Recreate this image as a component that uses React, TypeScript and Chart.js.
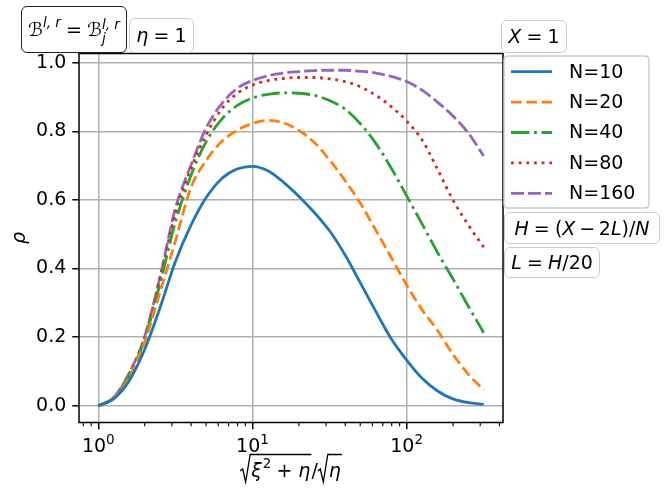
import { useEffect, useRef } from "react";
import { Chart, registerables } from "chart.js";

Chart.register(...registerables);

const FONT = '"DejaVu Sans", sans-serif';

// x = sqrt(xi^2 + eta)/sqrt(eta), sampled every 0.1 decade
const XS = [
  1, 1.259, 1.585, 1.995, 2.512, 3.162, 3.981, 5.012, 6.31, 7.943, 10, 12.59,
  15.85, 19.95, 25.12, 31.62, 39.81, 50.12, 63.1, 79.43, 100, 125.9, 158.5,
  199.5, 251.2, 316.2,
];

const N10 = [
  0, 0.02, 0.072, 0.163, 0.285, 0.42, 0.525, 0.607, 0.662, 0.69, 0.698, 0.685,
  0.652, 0.611, 0.564, 0.51, 0.44, 0.358, 0.275, 0.195, 0.133, 0.08, 0.043,
  0.02, 0.009, 0.004,
];
const N20 = [
  0, 0.022, 0.082, 0.185, 0.33, 0.48, 0.635, 0.715, 0.77, 0.803, 0.823, 0.832,
  0.825, 0.803, 0.768, 0.717, 0.657, 0.59, 0.512, 0.432, 0.352, 0.28, 0.22,
  0.15, 0.092, 0.046,
];
const N40 = [
  0, 0.023, 0.088, 0.193, 0.355, 0.535, 0.67, 0.77, 0.835, 0.875, 0.897, 0.908,
  0.912, 0.911, 0.905, 0.89, 0.865, 0.822, 0.765, 0.693, 0.612, 0.53, 0.447,
  0.37, 0.29, 0.213,
];
const N80 = [
  0, 0.024, 0.092, 0.197, 0.37, 0.56, 0.69, 0.79, 0.865, 0.91, 0.935, 0.948,
  0.954, 0.957, 0.957, 0.953, 0.945, 0.93, 0.905, 0.872, 0.83, 0.775, 0.69,
  0.6, 0.527, 0.462,
];
const N160 = [
  0, 0.024, 0.095, 0.2, 0.375, 0.575, 0.7, 0.81, 0.88, 0.925, 0.948, 0.962,
  0.97, 0.974, 0.977, 0.978, 0.978, 0.975, 0.97, 0.96, 0.945, 0.92, 0.885,
  0.845, 0.795, 0.728,
];

const LABELS = ["N=10", "N=20", "N=40", "N=80", "N=160"];
const VALUES = [N10, N20, N40, N80, N160];

const X_MAJOR = [1, 10, 100];
const X_MINOR = [
  0.8, 0.9, 2, 3, 4, 5, 6, 7, 8, 9, 20, 30, 40, 50, 60, 70, 80, 90, 200, 300,
  400,
];
const Y_TICKS = [0, 0.2, 0.4, 0.6, 0.8, 1.0];

const STYLES = [
  { color: "#1f77b4", dash: [] as number[] },
  { color: "#ff7f0e", dash: [10.7, 4.6] },
  { color: "#2ca02c", dash: [18.4, 4.6, 2.9, 4.6] },
  { color: "#d62728", dash: [2.9, 4.75] },
  { color: "#9467bd", dash: [13, 4] },
];

const LW = 2.8;

function roundRect(ctx: CanvasRenderingContext2D, x: number, y: number, w: number, h: number, r: number) {
  ctx.beginPath();
  ctx.moveTo(x + r, y);
  ctx.lineTo(x + w - r, y);
  ctx.quadraticCurveTo(x + w, y, x + w, y + r);
  ctx.lineTo(x + w, y + h - r);
  ctx.quadraticCurveTo(x + w, y + h, x + w - r, y + h);
  ctx.lineTo(x + r, y + h);
  ctx.quadraticCurveTo(x, y + h, x, y + h - r);
  ctx.lineTo(x, y + r);
  ctx.quadraticCurveTo(x, y, x + r, y);
  ctx.closePath();
}

// radical sign with bar over width w, starting at x, returns x after the sign
function radical(ctx: CanvasRenderingContext2D, x: number, top: number, bottom: number, w: number) {
  ctx.beginPath();
  ctx.moveTo(x, bottom - 11);
  ctx.lineTo(x + 2.5, bottom - 13);
  ctx.lineTo(x + 5.5, bottom);
  ctx.lineTo(x + 10, top);
  ctx.lineTo(x + 10 + w, top);
  ctx.stroke();
  return x + 10;
}

const decorPlugin = {
  id: "decor",
  afterDraw(chart: Chart) {
    const { ctx, chartArea: a } = chart;
    const xs = chart.scales.x;
    ctx.save();

    // minor ticks
    ctx.strokeStyle = "#000";
    ctx.lineWidth = 1.15;
    X_MINOR.forEach((v) => {
      const px = xs.getPixelForValue(v);
      if (px < a.left || px > a.right) return;
      ctx.beginPath();
      ctx.moveTo(px, a.bottom);
      ctx.lineTo(px, a.bottom + 3.8);
      ctx.stroke();
    });

    // frame
    ctx.lineWidth = 1.5;
    ctx.strokeRect(a.left, a.top, a.right - a.left, a.bottom - a.top);

    // x tick labels 10^k
    ctx.fillStyle = "#000";
    ctx.textBaseline = "alphabetic";
    ctx.textAlign = "left";
    X_MAJOR.forEach((v) => {
      const px = xs.getPixelForValue(v);
      const exp = String(Math.round(Math.log10(v)));
      ctx.font = `19px ${FONT}`;
      const wb = ctx.measureText("10").width;
      ctx.font = `13.5px ${FONT}`;
      const we = ctx.measureText(exp).width;
      const x0 = px - (wb + we) / 2;
      ctx.font = `19px ${FONT}`;
      ctx.fillText("10", x0, 451.5);
      ctx.font = `13.5px ${FONT}`;
      ctx.fillText(exp, x0 + wb, 443.5);
    });

    // y label
    ctx.save();
    ctx.translate(20, (a.top + a.bottom) / 2);
    ctx.rotate(-Math.PI / 2);
    ctx.font = `italic 19px ${FONT}`;
    ctx.textAlign = "center";
    ctx.textBaseline = "middle";
    ctx.fillText("ρ", 0, 0);
    ctx.restore();

    // x label: sqrt(xi^2 + eta)/sqrt(eta)
    const base = 476.5;
    const top = 454.5;
    const bot = 482;
    ctx.lineWidth = 1.3;
    ctx.font = `italic 19px ${FONT}`;
    const wXi = ctx.measureText("ξ").width;
    const wEta = ctx.measureText("η").width;
    ctx.font = `13.5px ${FONT}`;
    const w2 = ctx.measureText("2").width;
    ctx.font = `19px ${FONT}`;
    const wPlus = ctx.measureText(" + ").width;
    const wSlash = ctx.measureText("/").width;
    const inner1 = wXi + w2 + wPlus + wEta + 2;
    const inner2 = wEta + 2;
    const total = 10 + inner1 + wSlash + 10 + inner2;
    let cx = (a.left + a.right) / 2 - total / 2;
    cx = radical(ctx, cx, top, bot, inner1);
    ctx.font = `italic 19px ${FONT}`;
    ctx.fillText("ξ", cx + 1, base);
    ctx.font = `13.5px ${FONT}`;
    ctx.fillText("2", cx + 1 + wXi + 1, base - 9);
    ctx.font = `19px ${FONT}`;
    ctx.fillText(" + ", cx + 1 + wXi + w2, base);
    ctx.font = `italic 19px ${FONT}`;
    ctx.fillText("η", cx + 1 + wXi + w2 + wPlus, base);
    cx += inner1;
    ctx.font = `19px ${FONT}`;
    ctx.fillText("/", cx, base);
    cx += wSlash;
    cx = radical(ctx, cx, top, bot, inner2);
    ctx.font = `italic 19px ${FONT}`;
    ctx.fillText("η", cx + 1, base);

    // legend
    const lx = 504;
    const ly = 56;
    roundRect(ctx, lx, ly, 145, 152, 4);
    ctx.fillStyle = "rgba(255,255,255,0.8)";
    ctx.fill();
    ctx.strokeStyle = "#cccccc";
    ctx.lineWidth = 1.4;
    ctx.stroke();
    chart.data.datasets.forEach((ds, i) => {
      const y = 71.7 + i * 30.4;
      const st = STYLES[i];
      ctx.strokeStyle = st.color;
      ctx.lineWidth = LW;
      ctx.setLineDash(st.dash);
      ctx.beginPath();
      ctx.moveTo(511, y);
      ctx.lineTo(552, y);
      ctx.stroke();
      ctx.setLineDash([]);
      ctx.fillStyle = "#000";
      ctx.font = `19px ${FONT}`;
      ctx.textBaseline = "middle";
      ctx.fillText(ds.label as string, 569, y + 1);
    });

    ctx.restore();
  },
};

const Op = ({ children, gap = 0.27 }: { children: string; gap?: number }) => (
  <span style={{ margin: `0 ${gap}em` }}>{children}</span>
);

function box(left: number, top: number, w: number, h: number, border: string) {
  return {
    position: "absolute" as const,
    left,
    top,
    width: w,
    height: h,
    boxSizing: "border-box" as const,
    border: `1.4px solid ${border}`,
    borderRadius: 6,
    background: "rgba(255,255,255,0.9)",
    display: "flex",
    alignItems: "center",
    justifyContent: "center",
    fontSize: 19,
    whiteSpace: "nowrap" as const,
    lineHeight: 1,
    fontFamily: FONT,
  };
}

export default function App() {
  const canvasRef = useRef<HTMLCanvasElement>(null);

  useEffect(() => {
    if (!canvasRef.current) return;
    const chart = new Chart(canvasRef.current, {
      type: "line",
      data: {
        datasets: VALUES.map((vals, i) => ({
          label: LABELS[i],
          data: XS.map((x, j) => ({ x, y: vals[j] })),
          borderColor: STYLES[i].color,
          borderDash: STYLES[i].dash,
          borderWidth: LW,
          pointRadius: 0,
          fill: false,
          cubicInterpolationMode: "monotone" as const,
        })),
      },
      options: {
        animation: false,
        responsive: true,
        maintainAspectRatio: false,
        layout: { padding: { top: 53.5, right: 167, bottom: 0, left: 0 } },
        plugins: { legend: { display: false }, tooltip: { enabled: false } },
        scales: {
          x: {
            type: "logarithmic",
            bounds: "data",
            min: 0.7499,
            max: 421.7,
            afterBuildTicks: (s) => {
              s.ticks = X_MAJOR.map((value) => ({ value }));
            },
            afterFit: (s) => {
              s.height = 75.5;
            },
            ticks: { display: false, autoSkip: false },
            grid: {
              color: "#b0b0b0",
              lineWidth: 1.5,
              tickColor: "#000",
              tickLength: 6.7,
              tickWidth: 1.5,
            },
            border: { display: false },
          },
          y: {
            type: "linear",
            bounds: "data",
            min: -0.0489,
            max: 1.0269,
            afterBuildTicks: (s) => {
              s.ticks = Y_TICKS.map((value) => ({ value }));
            },
            afterFit: (s) => {
              s.width = 79;
            },
            ticks: {
              autoSkip: false,
              color: "#000",
              padding: 6,
              font: { family: FONT, size: 19 },
              callback: (v) => Number(v).toFixed(1),
            },
            grid: {
              color: "#b0b0b0",
              lineWidth: 1.5,
              tickColor: "#000",
              tickLength: 6.7,
              tickWidth: 1.5,
            },
            border: { display: false },
          },
        },
      },
      plugins: [decorPlugin],
    });
    return () => chart.destroy();
  }, []);

  return (
    <div
      style={{
        position: "fixed",
        left: 0,
        top: 0,
        width: 670,
        height: 498,
        background: "#fff",
        fontFamily: FONT,
      }}
    >
      <div style={{ position: "absolute", inset: 0 }}>
        <canvas ref={canvasRef} />
      </div>

      <div style={box(21, 6, 106, 47, "#222")}>
        <span>ℬ</span>
        <span style={{ fontSize: 13.5, alignSelf: "flex-start", marginTop: 9, fontStyle: "italic" }}>l, r</span>
        <Op>=</Op>
        <span>ℬ</span>
        <span
          style={{
            display: "inline-flex",
            flexDirection: "column",
            fontSize: 13.5,
            fontStyle: "italic",
            lineHeight: "14px",
            marginTop: 2,
          }}
        >
          <span>l, r</span>
          <span>j</span>
        </span>
      </div>

      <div style={box(129, 18, 65, 35, "#cccccc")}>
        <i>η</i>
        <Op>=</Op>
        <span>1</span>
      </div>

      <div style={box(501, 20, 66, 33, "#cccccc")}>
        <i>X</i>
        <Op>=</Op>
        <span>1</span>
      </div>

      <div style={box(504, 212, 156, 32, "#cccccc")}>
        <i>H</i>
        <Op>=</Op>
        <span>(</span>
        <i>X</i>
        <Op gap={0.2}>−</Op>
        <span>2</span>
        <i>L</i>
        <span>)/</span>
        <i>N</i>
      </div>

      <div style={box(504, 247, 96, 31, "#cccccc")}>
        <i>L</i>
        <Op>=</Op>
        <i>H</i>
        <span>/20</span>
      </div>
    </div>
  );
}
